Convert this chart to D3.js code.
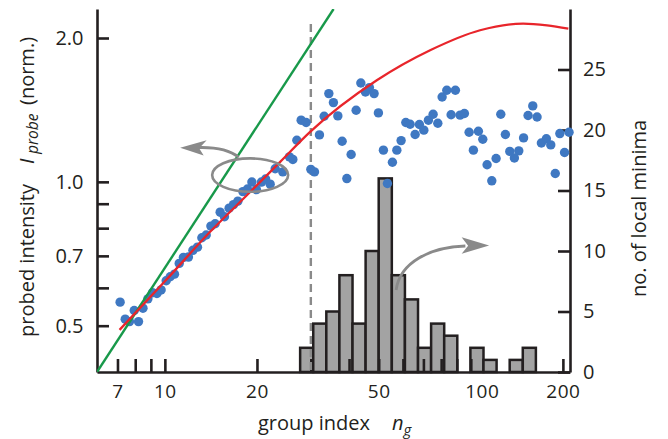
<!DOCTYPE html>
<html>
<head>
<meta charset="utf-8">
<script src="https://cdn.jsdelivr.net/npm/d3@7"></script>
<style>
  html, body { margin: 0; padding: 0; background: #fff; }
  svg { display: block; }
  text { font-family: 'Open Sans', 'Noto Sans', sans-serif; fill: #231f20; }
</style>
</head>
<body>
<svg id="chart" width="668" height="439"></svg>
<script>
// ---------------- data ----------------
const xTickValues = [7, 8, 9, 10, 20, 30, 40, 50, 60, 70, 80, 90, 100, 200];
const xTickLabels = [7, 10, 20, 50, 100, 200];
const yLeftTickValues = [0.5, 0.6, 0.7, 0.8, 0.9, 1.0, 2.0];
const yLeftTickLabels = [0.5, 0.7, 1.0, 2.0];
const yRightTickValues = [0, 5, 10, 15, 20, 25];

// measured probe intensity vs group index (blue dots)
const groupIndex = [
  7.14, 7.42, 7.66, 7.94, 8.20, 8.48, 8.80, 9.11, 9.42, 9.72,
  10.10, 10.41, 10.75, 11.14, 11.50, 11.94, 12.35, 12.78, 13.21, 13.65,
  14.14, 14.60, 15.16, 15.66, 16.22, 16.76, 17.32, 17.99, 18.62, 19.25,
  19.92, 20.69, 21.35, 22.09, 22.94,
  24.30, 25.54, 26.20, 27.00, 27.89, 28.96, 30.00, 30.83, 32.01, 33.16,
  34.35, 35.56, 36.76, 37.97, 39.34, 40.63, 42.19, 43.71, 45.25, 46.63,
  48.30, 49.89, 51.80, 53.39, 55.44, 57.31, 59.19, 61.32, 63.34, 65.77,
  67.93, 70.22, 72.69, 75.31, 78.02, 80.58, 83.48, 86.23, 89.06, 92.27,
  95.30, 98.73, 101.98, 105.89, 109.45, 113.05, 117.12, 120.97, 125.33, 129.74,
  134.11, 138.83, 143.50, 148.78, 153.90, 159.43, 164.68, 170.10, 176.62, 182.56,
  188.84, 195.49, 202.53, 209.50
];
const intensity = [
  0.560, 0.516, 0.510, 0.538, 0.510, 0.544, 0.569, 0.586, 0.584, 0.594,
  0.621, 0.633, 0.641, 0.675, 0.695, 0.696, 0.719, 0.730, 0.764, 0.774,
  0.808, 0.817, 0.864, 0.845, 0.881, 0.896, 0.911, 0.954, 0.966, 0.999,
  0.963, 0.999, 1.014, 0.989, 1.065,
  1.049, 1.128, 1.114, 1.222, 1.346, 1.331, 1.062, 1.049, 1.254, 1.372,
  1.530, 1.465, 1.374, 1.216, 1.016, 1.141, 1.412, 1.610, 1.542, 1.575,
  1.530, 1.394, 1.165, 0.992, 1.099, 1.165, 1.220, 1.331, 1.320, 1.256,
  1.318, 1.283, 1.346, 1.385, 1.326, 1.505, 1.555, 1.382, 1.555, 1.379,
  1.390, 1.270, 1.165, 1.276, 1.228, 1.086, 1.005, 1.119, 1.385, 1.256,
  1.158, 1.122, 1.161, 1.236, 1.377, 1.442, 1.367, 1.206, 1.231, 1.195,
  1.041, 1.262, 1.152, 1.270
];

// fitted curve (red)
const fitN = [7.11, 10.02, 14.06, 19.00, 23.82, 29.84, 49.29, 73.62, 107.25, 148.3, 177.6, 208.4];
const fitI = [0.490, 0.620, 0.786, 0.952, 1.101, 1.272, 1.631, 1.885, 2.076, 2.144, 2.126, 2.093];

// linear reference (green)
const linearN = [6.0, 35.6];
const linearI = [0.400, 2.300];

// histogram of local minima
const binEdges = [27.68, 30.55, 33.71, 37.20, 41.06, 45.31, 50.00, 55.19, 60.91, 67.22,
                  74.18, 81.86, 90.34, 99.70, 110.03, 121.43, 134.01, 147.89, 163.22];
const binCounts = [2, 4, 5, 8, 4, 10, 16, 8, 6, 2, 4, 3, 0, 2, 1, 0, 1, 2];

// cutoff marker
const cutoffN = 30;
const cutoffTop = 2.14;

// annotation anchors (data coordinates)
const ellipseCenter = [19.0, 1.033];
const leftArrow = { start: [17.42, 1.126], ctrl: [15.74, 1.187], end: [12.6, 1.179], tip: [11.22, 1.179] };
const rightArrow = { start: [57.0, 0.594], c1: [58.7, 0.679], c2: [73.6, 0.730], end: [96.0, 0.734], tip: [114.8, 0.7356] };

// ---------------- drawing ----------------
const svg = d3.select('#chart');
const ink = '#231f20';
const grey = '#8a8a8a';

const x = d3.scaleLog().domain([6.0, 211]).range([97, 570]);
const yL = d3.scaleLog().domain([0.4, 2.3]).range([372, 9]);
const yR = d3.scaleLinear().domain([0, 30]).range([372, 9]);

svg.append('defs').append('clipPath').attr('id', 'plotclip')
  .append('rect').attr('x', 97).attr('y', 9).attr('width', 473).attr('height', 363);

// histogram
const bins = binCounts.map((c, i) => ({ x0: binEdges[i], x1: binEdges[i + 1], c }));
svg.append('g').selectAll('rect').data(bins.filter(d => d.c > 0)).join('rect')
  .attr('x', d => x(d.x0))
  .attr('width', d => x(d.x1) - x(d.x0))
  .attr('y', d => yR(d.c))
  .attr('height', d => yR(0) - yR(d.c))
  .attr('fill', '#a3a3a3')
  .attr('stroke', ink)
  .attr('stroke-width', 2.5);

// axes
function styleAxis(g) {
  g.select('.domain').attr('stroke', ink).attr('stroke-width', 2.6);
  g.selectAll('.tick line').attr('stroke', ink).attr('stroke-width', 2.6);
  g.selectAll('.tick text').attr('fill', ink).style('font-family', "'Open Sans', sans-serif");
}

const xAxis = d3.axisBottom(x).tickValues(xTickValues).tickSizeInner(-13).tickSizeOuter(0).tickPadding(13)
  .tickFormat(d => xTickLabels.includes(d) ? String(d) : '');
const gx = svg.append('g').attr('transform', 'translate(0,372)').call(xAxis);
styleAxis(gx);
gx.selectAll('.tick text').style('font-size', '19px').attr('letter-spacing', '0.5px')
  .attr('dx', d => d === 100 ? 11 : 0);

const yAxisL = d3.axisLeft(yL).tickValues(yLeftTickValues).tickSizeInner(-12).tickSizeOuter(0).tickPadding(13.5)
  .tickFormat(d => yLeftTickLabels.includes(d) ? d3.format('.1f')(d) : '');
const gyl = svg.append('g').attr('transform', 'translate(97,0)').call(yAxisL);
styleAxis(gyl);
gyl.selectAll('.tick text').style('font-size', '20px');

const yAxisR = d3.axisRight(yR).tickValues(yRightTickValues).tickSizeInner(-12).tickSizeOuter(0).tickPadding(13)
  .tickFormat(d3.format('d'));
const gyr = svg.append('g').attr('transform', 'translate(570,0)').call(yAxisR);
styleAxis(gyr);
gyr.selectAll('.tick text').style('font-size', '20px');

// dashed cutoff line
svg.append('line')
  .attr('x1', x(cutoffN)).attr('x2', x(cutoffN))
  .attr('y1', yL(cutoffTop)).attr('y2', yL(0.4))
  .attr('stroke', grey).attr('stroke-width', 2.4).attr('stroke-dasharray', '8,5');

// blue dots
const pts = groupIndex.map((n, i) => ({ n, v: intensity[i] }));
svg.append('g').selectAll('circle').data(pts).join('circle')
  .attr('cx', d => x(d.n)).attr('cy', d => yL(d.v)).attr('r', 4.7)
  .attr('fill', '#3f78c2');

// green linear line
const plot = svg.append('g').attr('clip-path', 'url(#plotclip)');
const lin = linearN.map((n, i) => ({ n, v: linearI[i] }));
plot.append('path').datum(lin)
  .attr('d', d3.line().x(d => x(d.n)).y(d => yL(d.v)))
  .attr('fill', 'none').attr('stroke', '#18994a').attr('stroke-width', 2.4);

// red fit curve
const fit = fitN.map((n, i) => ({ n, v: fitI[i] }));
plot.append('path').datum(fit)
  .attr('d', d3.line().x(d => x(d.n)).y(d => yL(d.v)).curve(d3.curveMonotoneX))
  .attr('fill', 'none').attr('stroke', '#e8252b').attr('stroke-width', 2.3);

// ellipse annotation
svg.append('ellipse')
  .attr('cx', x(ellipseCenter[0])).attr('cy', yL(ellipseCenter[1]))
  .attr('rx', 38).attr('ry', 16.7)
  .attr('fill', 'none').attr('stroke', grey).attr('stroke-width', 2.6);

// left arrow
const P = p => [x(p[0]), yL(p[1])];
{
  const s = P(leftArrow.start), c = P(leftArrow.ctrl), e = P(leftArrow.end), t = P(leftArrow.tip);
  svg.append('path').attr('d', `M${s[0]},${s[1]} Q${c[0]},${c[1]} ${e[0]},${e[1]}`)
    .attr('fill', 'none').attr('stroke', grey).attr('stroke-width', 2.8);
  const head = [[0, 0], [26.5, -7.5], [19, 0.5], [23.5, 7.8]].map(q => [t[0] + q[0], t[1] + q[1]]);
  svg.append('path').attr('d', 'M' + head.join('L') + 'Z').attr('fill', grey);
}
// right arrow
{
  const s = P(rightArrow.start), c1 = P(rightArrow.c1), c2 = P(rightArrow.c2), e = P(rightArrow.end), t = P(rightArrow.tip);
  svg.append('path').attr('d', `M${s[0]},${s[1]} C${c1[0]},${c1[1]} ${c2[0]},${c2[1]} ${e[0]},${e[1]}`)
    .attr('fill', 'none').attr('stroke', grey).attr('stroke-width', 2.8);
  const head = [[0, 0], [-27.5, -8.2], [-21, 0.3], [-27.5, 8.2]].map(q => [t[0] + q[0], t[1] + q[1]]);
  svg.append('path').attr('d', 'M' + head.join('L') + 'Z').attr('fill', grey);
}

// axis titles
const xt = svg.append('text').attr('x', 258).attr('y', 430).style('font-size', '20px');
xt.append('tspan').text('group index');
xt.append('tspan').attr('x', 392).style('font-style', 'italic').text('n');
xt.append('tspan').attr('dy', 5).style('font-style', 'italic').style('font-size', '15px').text('g');

const lt = svg.append('text').attr('transform', 'translate(33.5,0) rotate(-90)').style('font-size', '20px');
lt.append('tspan').attr('x', -337).text('probed intensity');
lt.append('tspan').attr('x', -164).style('font-style', 'italic').text('I');
lt.append('tspan').attr('x', -154).attr('dy', 4).style('font-style', 'italic').style('font-size', '15.5px').text('probe');
lt.append('tspan').attr('x', -105).attr('dy', -4).text('(norm.)');

svg.append('text').attr('transform', 'translate(646,0) rotate(-90)')
  .attr('x', -208.5).attr('text-anchor', 'middle').style('font-size', '20px')
  .text('no. of local minima');
</script>
</body>
</html>
